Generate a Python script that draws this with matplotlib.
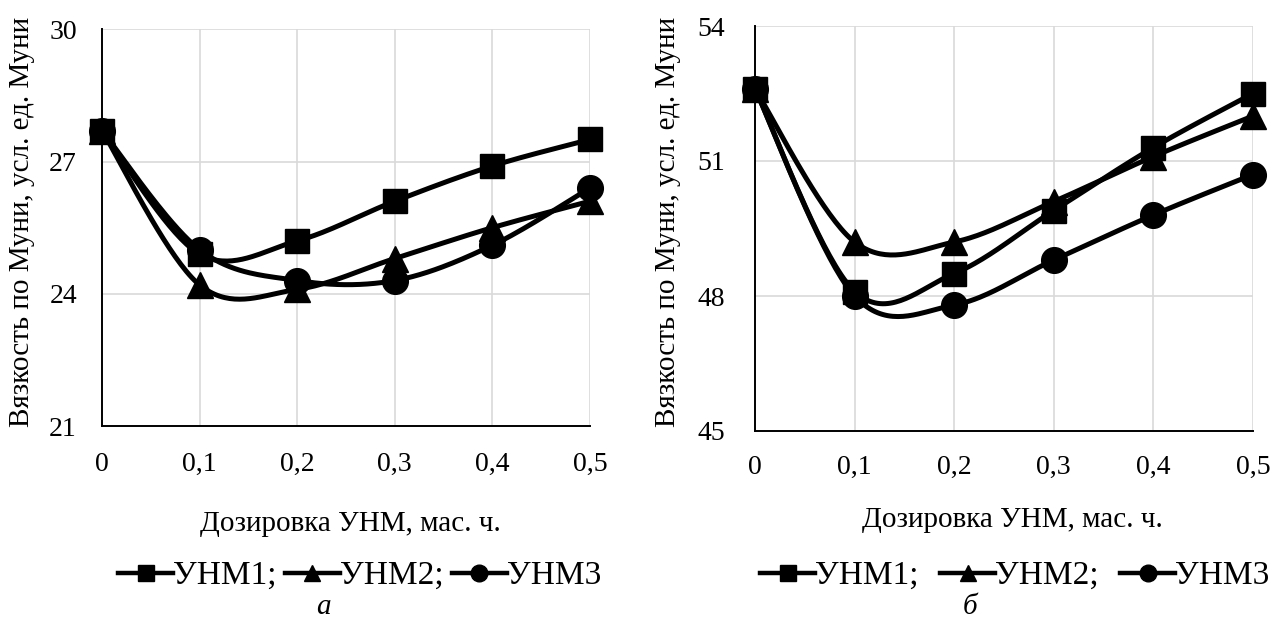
import numpy as np
import matplotlib
matplotlib.use("Agg")
import matplotlib.pyplot as plt
from matplotlib.lines import Line2D

plt.rcParams['font.family'] = ['Liberation Serif', 'DejaVu Serif']

# Dosage of carbon nanomaterial, parts by mass
dosage = [0, 0.1, 0.2, 0.3, 0.4, 0.5]
x_ticklabels = ["0", "0,1", "0,2", "0,3", "0,4", "0,5"]
series_names = ["УНМ1;", "УНМ2;", "УНМ3"]
markers = ["s", "^", "o"]

# Panel а: Mooney viscosity
a_unm1 = [27.7, 24.9, 25.2, 26.1, 26.9, 27.5]
a_unm2 = [27.7, 24.2, 24.1, 24.8, 25.5, 26.1]
a_unm3 = [27.7, 25.0, 24.3, 24.3, 25.1, 26.4]
a_yticks = [21, 24, 27, 30]

# Panel б: Mooney viscosity
b_unm1 = [52.6, 48.1, 48.5, 49.9, 51.3, 52.5]
b_unm2 = [52.6, 49.2, 49.2, 50.1, 51.1, 52.0]
b_unm3 = [52.6, 48.0, 47.8, 48.8, 49.8, 50.7]
b_yticks = [45, 48, 51, 54]

W, H = 1275, 621
fig = plt.figure(figsize=(W / 100, H / 100), dpi=100)


def smooth(xs, ys, n=40):
    """Catmull-Rom style cubic Bezier smoothing through every point."""
    p = np.column_stack([xs, ys]).astype(float)
    ext = np.vstack([p[0], p, p[-1]])
    out = [p[:1]]
    t = np.linspace(0, 1, n)[1:, None]
    for i in range(len(p) - 1):
        p0, p1, p2, p3 = ext[i], ext[i + 1], ext[i + 2], ext[i + 3]
        c1 = p1 + (p2 - p0) / 6.0
        c2 = p2 - (p3 - p1) / 6.0
        seg = ((1 - t) ** 3) * p1 + 3 * ((1 - t) ** 2) * t * c1 + 3 * (1 - t) * t ** 2 * c2 + t ** 3 * p2
        out.append(seg)
    arr = np.vstack(out)
    return arr[:, 0], arr[:, 1]


def px_rect(x0, y0, x1, y1):
    return [x0 / W, 1 - y1 / H, (x1 - x0) / W, (y1 - y0) / H]


TICK_FS = 20
LABEL_FS = 21
LEG_FS = 24
MSIZE = {"s": 17.5, "^": 18.5, "o": 18.5}


def panel(rect, series, yticks, ypad, xpad):
    ax = fig.add_axes(rect)
    for vals, m in zip(series, markers):
        sx, sy = smooth(dosage, vals)
        ax.plot(sx, sy, color="black", lw=3.6, solid_capstyle="round", zorder=3)
        ax.plot(dosage, vals, linestyle="none", marker=m, ms=MSIZE[m],
                color="black", zorder=4, clip_on=False)
    ax.set_xlim(0, 0.5)
    ax.set_ylim(yticks[0], yticks[-1])
    ax.set_xticks(dosage)
    ax.set_xticklabels(x_ticklabels)
    ax.set_yticks(yticks)
    ax.grid(True, color="#d9d9d9", lw=1.2)
    ax.set_axisbelow(True)
    for s in ("top", "right"):
        ax.spines[s].set_visible(False)
    for s in ("left", "bottom"):
        ax.spines[s].set_linewidth(1.4)
        ax.spines[s].set_zorder(5)
    ax.tick_params(length=0, labelsize=TICK_FS)
    ax.tick_params(axis="y", pad=ypad)
    ax.tick_params(axis="x", pad=xpad)
    return ax


ax_a = panel(px_rect(102, 29.3, 590, 426), [a_unm1, a_unm2, a_unm3], a_yticks, 18, 19)
ax_b = panel(px_rect(755, 26, 1253, 431), [b_unm1, b_unm2, b_unm3], b_yticks, 21.5, 17)

ylabel = "Вязкость по Муни, усл. ед. Муни"
xlabel = "Дозировка УНМ, мас. ч."
fig.text(22 / W, 1 - 222 / H, ylabel, rotation=90, ha="center", va="center", fontsize=LABEL_FS)
fig.text(668 / W, 1 - 222 / H, ylabel, rotation=90, ha="center", va="center", fontsize=LABEL_FS)
fig.text(350 / W, 1 - 524 / H, xlabel, ha="center", va="center", fontsize=LABEL_FS)
fig.text(1012 / W, 1 - 520 / H, xlabel, ha="center", va="center", fontsize=LABEL_FS)

handles = [Line2D([], [], color="black", lw=3.2, marker=m, ms=12) for m in markers]


def legend(x0, cy, colsp):
    fig.legend(handles, series_names, loc="center left", bbox_to_anchor=(x0 / W, 1 - cy / H),
               ncol=3, frameon=False, fontsize=LEG_FS, handlelength=1.65,
               handletextpad=0.0, columnspacing=colsp, borderaxespad=0, borderpad=0)


legend(118, 576, 0.25)
legend(760, 576, 0.65)

fig.text(323 / W, 1 - 607 / H, "а", ha="center", va="center", fontsize=LABEL_FS, style="italic")
fig.text(970 / W, 1 - 607 / H, "б", ha="center", va="center", fontsize=LABEL_FS, style="italic")

fig.savefig("out.png", dpi=100)
